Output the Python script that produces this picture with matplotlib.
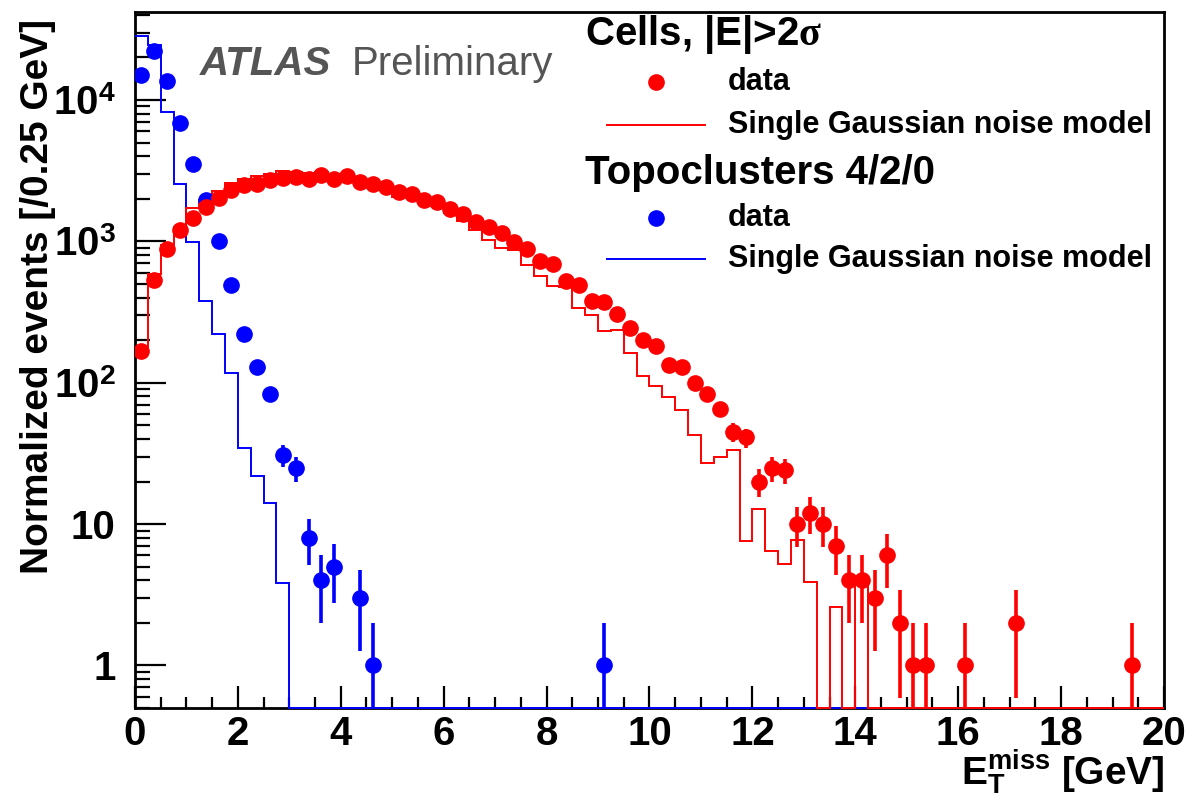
import matplotlib
matplotlib.use('Agg')
import matplotlib.pyplot as plt
from matplotlib.ticker import MultipleLocator, LogLocator, NullFormatter
import numpy as np

plt.rcParams['font.family'] = ['Liberation Sans', 'DejaVu Sans']
plt.rcParams['font.weight'] = 'bold'
plt.rcParams['axes.labelweight'] = 'bold'
plt.rcParams['mathtext.fontset'] = 'custom'
plt.rcParams['mathtext.rm'] = 'Liberation Sans:bold'
plt.rcParams['mathtext.bf'] = 'Liberation Sans:bold'
plt.rcParams['mathtext.it'] = 'Liberation Serif'

# 0.25 GeV bins from 0 to 20 GeV
bin_width = 0.25
edges = np.arange(0, 20 + bin_width / 2, bin_width)
centers = edges[:-1] + bin_width / 2

# Cells, |E|>2 sigma : data
cells_data = [167, 537, 885, 1212, 1466, 1754, 2032, 2325, 2493, 2564,
              2705, 2812, 2858, 2780, 2966, 2766, 2885, 2618, 2564, 2428,
              2225, 2177, 1976, 1892, 1706, 1574, 1375, 1259, 1148, 991,
              885, 731, 693, 522, 495, 377, 373, 308, 242, 202,
              181, 134, 129, 99, 83, 65, 45, 41, 20, 25,
              24, 10, 12, 10, 7, 4, 4, 3, 6, 2,
              1, 1, 0, 0, 1, 0, 0, 0, 2, 0,
              0, 0, 0, 0, 0, 0, 0, 1, 0, 0]

# Cells : single gaussian noise model
cells_model = [172, 592, 949, 1266, 1725, 1976, 2262, 2590, 2766, 2920,
               3000, 3160, 3100, 3050, 3080, 2950, 2900, 2700, 2550, 2400,
               2060, 2050, 1900, 1770, 1600, 1400, 1195, 1020, 893, 865,
               685, 572, 484, 479, 339, 300, 231, 235, 163, 112,
               95.5, 79.3, 64.6, 43, 27.2, 29.8, 33.3, 7.65, 12.8, 6.43,
               5.18, 7.7, 3.9, 0, 2.58, 0, 4.0, 0, 0, 0,
               0, 0, 0, 0, 0, 0, 0, 0, 0, 0,
               0, 0, 0, 0, 0, 0, 0, 0, 0, 0]

# Topoclusters 4/2/0 : data
topo_data = [14960, 22100, 13560, 6890, 3550, 1960, 1014, 492, 223, 129,
             83, 31, 25, 8, 4, 5, 0, 3, 1, 0,
             0, 0, 0, 0, 0, 0, 0, 0, 0, 0,
             0, 0, 0, 0, 0, 0, 1, 0, 0, 0,
             0, 0, 0, 0, 0, 0, 0, 0, 0, 0,
             0, 0, 0, 0, 0, 0, 0, 0, 0, 0,
             0, 0, 0, 0, 0, 0, 0, 0, 0, 0,
             0, 0, 0, 0, 0, 0, 0, 0, 0, 0]

# Topoclusters : single gaussian noise model
topo_model = [28500, 24400, 8190, 2560, 991, 377, 223, 117, 34.6, 21.8,
              14.2, 3.85] + [0] * 68

ymin, ymax = 0.5, 4.2e4

fig = plt.figure(figsize=(11.89, 7.95), dpi=100)
ax = fig.add_axes([0.1135, 0.1094, 0.8655, 0.8756])
ax.set_yscale('log', nonpositive='clip')


def draw_model(values, color):
    v = np.asarray(values, dtype=float)
    # empty bins sit on the bottom of the frame
    v = np.where(v > 0, v, ymin)
    ax.stairs(v, edges, baseline=None, color=color, lw=1.4, zorder=3, clip_on=False)


def draw_data(values, color):
    v = np.asarray(values, dtype=float)
    m = v > 0
    ax.errorbar(centers[m], v[m], yerr=np.sqrt(v[m]), fmt='o', color=color,
                ms=11, elinewidth=2.6, capsize=0, zorder=4)


draw_model(topo_model, 'blue')
draw_model(cells_model, 'red')
draw_data(topo_data, 'blue')
draw_data(cells_data, 'red')

ax.set_xlim(0, 20)
ax.set_ylim(ymin, ymax)

ax.xaxis.set_major_locator(MultipleLocator(2))
ax.xaxis.set_minor_locator(MultipleLocator(0.5))
ax.set_yticks([1, 10, 100, 1000, 10000])
ax.set_yticklabels(['1', '10', r'$10^{2}$', r'$10^{3}$', r'$10^{4}$'])
ax.yaxis.set_minor_locator(LogLocator(base=10, subs=np.arange(2, 10)))
ax.yaxis.set_minor_formatter(NullFormatter())

ax.tick_params(axis='both', which='both', direction='in', width=1.6,
               top=False, right=False, labelsize=29)
ax.tick_params(axis='x', which='major', length=16, pad=5)
ax.tick_params(axis='x', which='minor', length=8)
ax.tick_params(axis='y', which='major', length=22, pad=14)
ax.tick_params(axis='y', which='minor', length=11)
for s in ax.spines.values():
    s.set_linewidth(2)

ax.set_xlabel(r'$\mathrm{E}_{\mathrm{T}}^{\mathrm{miss}}$ [GeV]', fontsize=28, loc='right')
ax.xaxis.set_label_coords(1.0, -0.059)
ax.set_ylabel('Normalized events [/0.25 GeV]', fontsize=28, loc='top')
ax.yaxis.set_label_coords(-0.077, 0.99)

ax.text(0.063, 0.909, 'ATLAS', transform=ax.transAxes, fontsize=29,
        fontweight='bold', fontstyle='italic', color='#555555')
ax.text(0.2109, 0.909, 'Preliminary', transform=ax.transAxes, fontsize=29,
        fontweight='normal', color='#555555')

# legend, drawn by hand in axes fractions
tx, kx0, kx1, lx = 0.4373, 0.4587, 0.5539, 0.5763
blocks = [('Cells, |E|>2$\\sigma$', 'red', 0.967, 0.9000, 0.8376),
          ('Topoclusters 4/2/0', 'blue', 0.7687, 0.7040, 0.6451)]
for title, color, yt, yd, yl in blocks:
    ax.text(tx, yt, title, transform=ax.transAxes, fontsize=29, va='center')
    ax.plot([(kx0 + kx1) / 2], [yd], 'o', color=color, ms=11, transform=ax.transAxes)
    ax.text(lx, yd, 'data', transform=ax.transAxes, fontsize=22, va='center')
    ax.plot([kx0, kx1], [yl, yl], color=color, lw=1.4, transform=ax.transAxes)
    ax.text(lx, yl, 'Single Gaussian noise model', transform=ax.transAxes,
            fontsize=22, va='center')

fig.savefig('out.png', dpi=100)
